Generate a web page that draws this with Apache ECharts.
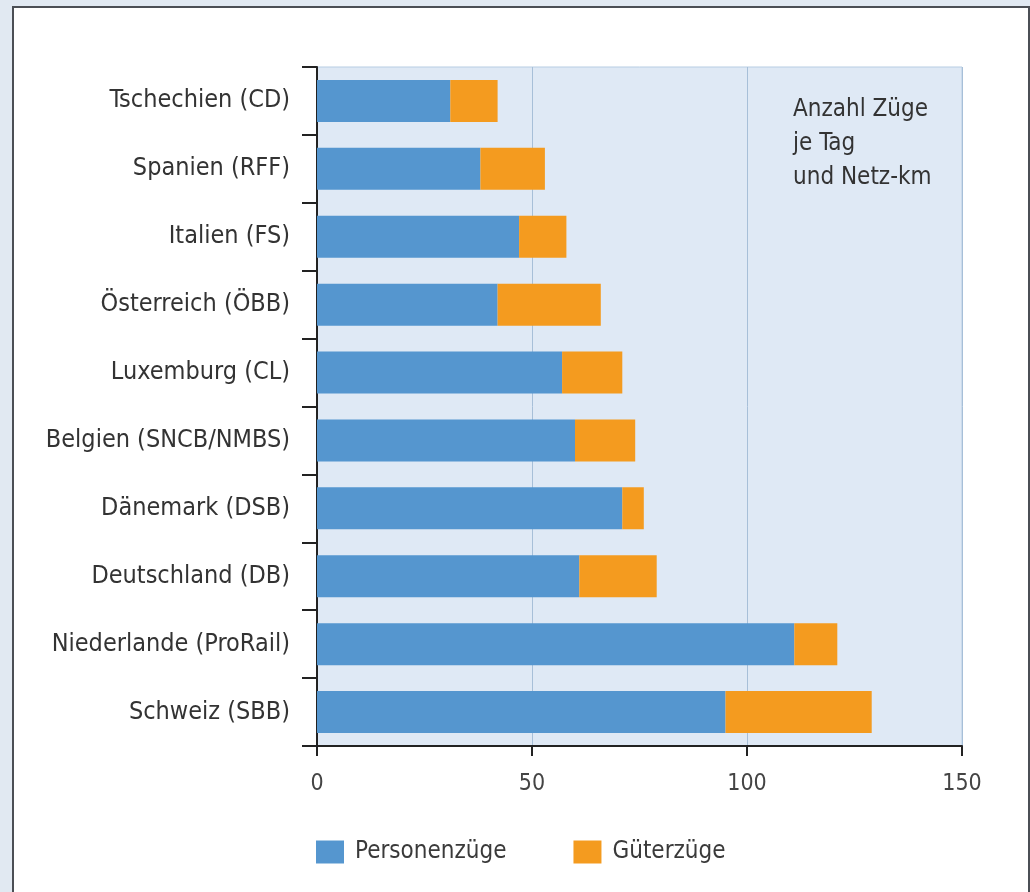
<!DOCTYPE html>
<html>
<head>
<meta charset="utf-8">
<script src="https://cdn.jsdelivr.net/npm/echarts@6/dist/echarts.min.js"></script>
<style>
  html, body { margin: 0; padding: 0; background: #e1e9f2; }
  .frame {
    position: absolute; left: 12px; top: 6px; width: 1014px; height: 900px;
    background: #fff; border: 2px solid #4b4f55; border-bottom: none;
  }
  #chart { position: absolute; left: 0; top: 0; width: 1030px; height: 892px; }
</style>
</head>
<body>
<div class="frame"></div>
<div id="chart"></div>
<script>
const categories = [
  'Tschechien (CD)',
  'Spanien (RFF)',
  'Italien (FS)',
  'Österreich (ÖBB)',
  'Luxemburg (CL)',
  'Belgien (SNCB/NMBS)',
  'Dänemark (DSB)',
  'Deutschland (DB)',
  'Niederlande (ProRail)',
  'Schweiz (SBB)',
]
const personenzuege = [31, 38, 47, 42, 57, 60, 71, 61, 111, 95]
const gueterzuege = [11, 15, 11, 24, 14, 14, 5, 18, 10, 34]
const xTicks = [0, 50, 100, 150]
const seriesNames = ['Personenzüge', 'Güterzüge']

const font = "'DejaVu Sans Condensed', 'Liberation Sans', sans-serif"

const chart = echarts.init(document.getElementById('chart'))
const option = {
  animation: false,
  textStyle: { fontFamily: font },
  color: ['#5596cf', '#f49b1f'],
  grid: {
    left: 317,
    right: 68,
    top: 67,
    bottom: 146,
    show: true,
    backgroundColor: '#dfe9f5',
    borderColor: '#b7cde3',
    borderWidth: 1,
  },
  legend: {
    left: 311,
    top: 835,
    itemWidth: 28,
    itemHeight: 23,
    itemGap: 67,
    icon: 'rect',
    textStyle: { fontSize: 24, color: '#3a3a3a', fontFamily: font, padding: [0, 0, 0, 6] },
    data: seriesNames,
  },
  graphic: [
    {
      type: 'text',
      left: 793,
      top: 93,
      style: {
        text: 'Anzahl Züge\nje Tag\nund Netz-km',
        font: '24px ' + font,
        fill: '#333',
        lineHeight: 34,
      },
    },
  ],
  xAxis: {
    type: 'value',
    min: xTicks[0],
    max: xTicks[xTicks.length - 1],
    interval: 50,
    axisLine: { show: true, lineStyle: { color: '#222', width: 2 } },
    axisTick: { show: true, length: 10, lineStyle: { color: '#222', width: 2 } },
    axisLabel: { fontSize: 23, color: '#444', margin: 27, fontFamily: font },
    splitLine: { show: true, lineStyle: { color: '#a7bfd8', width: 1 } },
  },
  yAxis: {
    type: 'category',
    inverse: true,
    data: categories,
    axisLine: { show: true, lineStyle: { color: '#222', width: 2 } },
    axisTick: { show: true, length: 15, lineStyle: { color: '#222', width: 2 } },
    axisLabel: { fontSize: 25, color: '#333', margin: 27, fontFamily: font },
    splitLine: { show: false },
  },
  series: [
    {
      name: seriesNames[0],
      type: 'bar',
      stack: 'total',
      barWidth: 42,
      data: personenzuege,
    },
    {
      name: seriesNames[1],
      type: 'bar',
      stack: 'total',
      barWidth: 42,
      data: gueterzuege,
    },
  ],
}
chart.setOption(option)
</script>
</body>
</html>
